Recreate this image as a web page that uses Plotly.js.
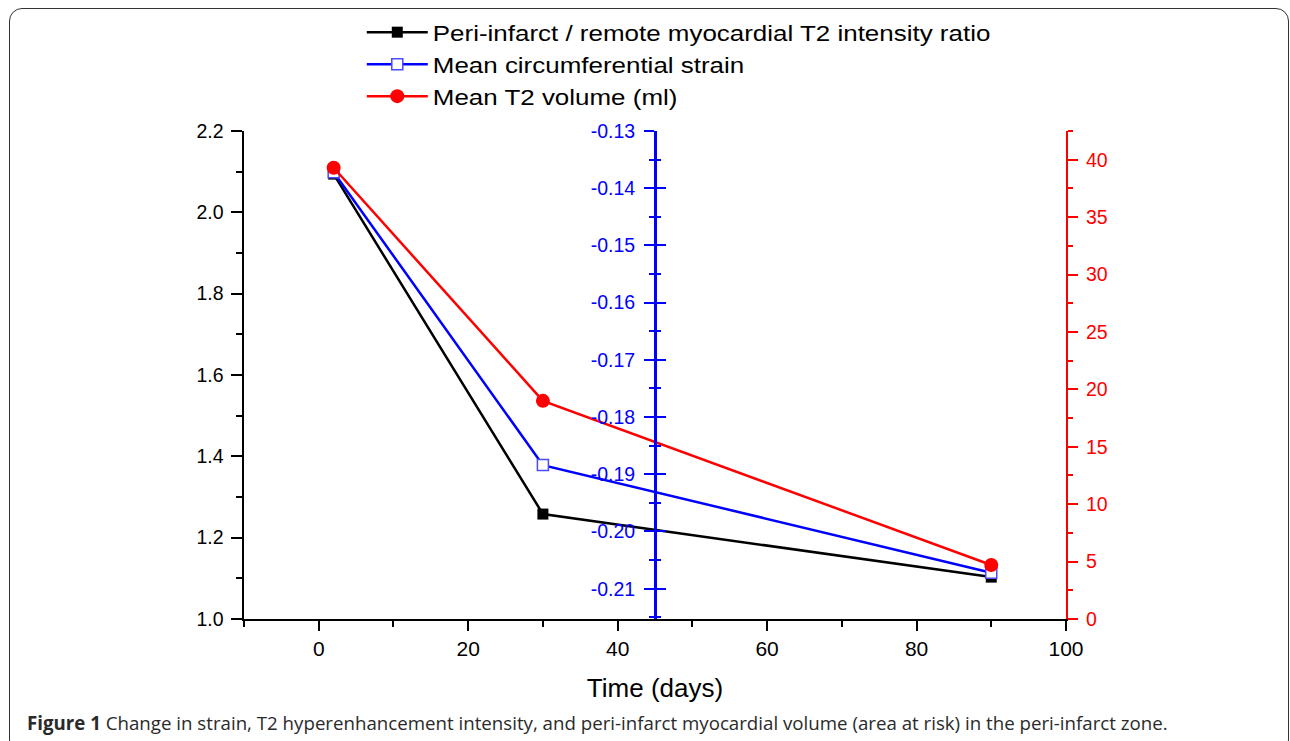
<!DOCTYPE html>
<html>
<head>
<meta charset="utf-8">
<script src="https://cdn.plot.ly/plotly-3.0.1.min.js"></script>
<style>
  html, body { margin: 0; padding: 0; background: #fff; }
  #wrap { position: relative; width: 1290px; height: 741px; overflow: hidden; }
  #chart { width: 1290px; height: 741px; }
  #frame { position: absolute; left: 9px; top: 8px; width: 1280px; height: 745px;
           border: 1.5px solid #333; border-radius: 13px; pointer-events: none; box-sizing: border-box; }
</style>
</head>
<body>
<div id="wrap">
  <div id="chart"></div>
  <div id="frame"></div>
</div>
<script>
// Data
const days = [2, 30, 90];
const t2Ratio = [2.094, 1.258, 1.103];          // left axis
const strain = [-0.1372, -0.1884, -0.2072];     // blue middle axis
const t2Volume = [39.3, 19.0, 4.7];             // right axis (ml)

const seriesNames = [
  'Peri-infarct / remote myocardial T2 intensity ratio',
  'Mean circumferential strain',
  'Mean T2 volume (ml)'
];
const strainTicks = [-0.13, -0.14, -0.15, -0.16, -0.17, -0.18, -0.19, -0.20, -0.21];
const strainTickText = strainTicks.map(v => v.toFixed(2));
const captionBold = 'Figure 1';
const captionText = 'Change in strain, T2 hyperenhancement intensity, and peri-infarct myocardial volume (area at risk) in the peri-infarct zone.';

const FONT = 'Liberation Sans, Arial, sans-serif';
const BLUE = '#0000ff';
const RED = '#ff0000';

const traces = [
  {
    x: days, y: t2Ratio, name: seriesNames[0], type: 'scatter', mode: 'lines+markers',
    xaxis: 'x', yaxis: 'y',
    line: { color: '#000000', width: 2.5 },
    marker: { symbol: 'square', size: 11, color: '#000000' }
  },
  {
    x: days, y: strain, name: seriesNames[1], type: 'scatter', mode: 'lines+markers',
    xaxis: 'x', yaxis: 'y2',
    line: { color: BLUE, width: 2.5 },
    marker: { symbol: 'square', size: 11, color: '#ffffff', line: { color: '#4a4aff', width: 1.5 } }
  },
  {
    x: days, y: t2Volume, name: seriesNames[2], type: 'scatter', mode: 'lines+markers',
    xaxis: 'x', yaxis: 'y3',
    line: { color: RED, width: 2.5 },
    marker: { symbol: 'circle', size: 14, color: RED }
  },
  {
    x: days, y: strain, type: 'scatter', mode: 'lines', xaxis: 'x', yaxis: 'y4',
    line: { width: 0 }, opacity: 0, showlegend: false, hoverinfo: 'skip'
  }
];

const strainRange = [-0.2153, -0.13];

const layout = {
  width: 1290, height: 741,
  margin: { l: 244, r: 224, t: 130, b: 122 },
  paper_bgcolor: 'rgba(0,0,0,0)',
  plot_bgcolor: '#ffffff',
  font: { family: FONT, color: '#000' },
  showlegend: true,
  legend: {
    x: 0.181, xanchor: 'left', y: 1.243, yanchor: 'top',
    font: { family: FONT, size: 22.3, color: '#000' },
    bgcolor: 'rgba(0,0,0,0)', itemwidth: 30, tracegroupgap: 0
  },
  xaxis: {
    range: [-10, 100], tick0: 0, dtick: 20,
    showgrid: false, zeroline: false,
    showline: true, linecolor: '#000', linewidth: 2,
    ticks: 'outside', ticklen: 10, tickwidth: 2, tickcolor: '#000',
    minor: { dtick: 10, ticks: 'outside', ticklen: 6, tickwidth: 2, tickcolor: '#000' },
    tickfont: { family: FONT, size: 21, color: '#000' },
    title: { text: 'Time (days)', font: { family: FONT, size: 26, color: '#000' }, standoff: 20 }
  },
  yaxis: {
    range: [1.0, 2.2], tick0: 1.0, dtick: 0.2, tickformat: '.1f',
    showgrid: false, zeroline: false,
    showline: true, linecolor: '#000', linewidth: 2.5,
    ticks: 'outside', ticklen: 11, tickwidth: 2, tickcolor: '#000',
    minor: { dtick: 0.1, ticks: 'outside', ticklen: 6, tickwidth: 2, tickcolor: '#000' },
    tickfont: { family: FONT, size: 19.5, color: '#000' },
    ticklabelstandoff: 3
  },
  yaxis2: {
    range: strainRange, tickmode: 'array', tickvals: strainTicks, ticktext: strainTickText,
    overlaying: 'y', anchor: 'free', position: 0.5, side: 'left',
    showgrid: false, zeroline: false,
    showline: true, linecolor: BLUE, linewidth: 3,
    ticks: 'outside', ticklen: 10, tickwidth: 2, tickcolor: BLUE,
    minor: { tickmode: 'linear', tick0: -0.13, dtick: 0.005, ticks: 'outside', ticklen: 5, tickwidth: 2, tickcolor: BLUE },
    tickfont: { family: FONT, size: 19.5, color: BLUE },
    ticklabelstandoff: 5
  },
  yaxis4: {
    range: strainRange, tickmode: 'array', tickvals: strainTicks,
    overlaying: 'y', anchor: 'free', position: 0.5, side: 'left',
    showgrid: false, zeroline: false, showline: false, showticklabels: false,
    ticks: 'inside', ticklen: 10, tickwidth: 2, tickcolor: BLUE,
    minor: { tickmode: 'linear', tick0: -0.13, dtick: 0.005, ticks: 'inside', ticklen: 5, tickwidth: 2, tickcolor: BLUE }
  },
  yaxis3: {
    range: [0, 42.5], dtick: 5, tick0: 0,
    overlaying: 'y', anchor: 'x', side: 'right',
    showgrid: false, zeroline: false,
    showline: true, linecolor: RED, linewidth: 2,
    ticks: 'outside', ticklen: 10, tickwidth: 2, tickcolor: RED,
    minor: { dtick: 2.5, ticks: 'outside', ticklen: 5, tickwidth: 2, tickcolor: RED },
    tickfont: { family: FONT, size: 19.5, color: RED },
    ticklabelstandoff: 4
  },
  annotations: [
    {
      xref: 'paper', yref: 'paper', x: -0.2665, y: -0.2127, xanchor: 'left', yanchor: 'middle',
      showarrow: false, align: 'left',
      text: '<b>' + captionBold + '</b> ' + captionText,
      font: { family: 'Open Sans, sans-serif', size: 18.7, color: '#2a2a2a' }
    }
  ]
};

Plotly.newPlot('chart', traces, layout, { displayModeBar: false, staticPlot: true }).then(function () {
  // widen legend glyphs horizontally (reference legend font is wider than its line height)
  const s = 1.164;
  document.querySelectorAll('#chart .legend [clip-path]').forEach(function (e) {
    e.removeAttribute('clip-path');
  });
  document.querySelectorAll('#chart .legendtext').forEach(function (t) {
    const x0 = parseFloat(t.getAttribute('x')) || 0;
    t.setAttribute('transform', 'translate(' + (x0 * (1 - s)) + ',0) scale(' + s + ',1)');
  });
  // longer legend sample lines with centred markers, as in the reference
  document.querySelectorAll('#chart .legend .legendlines path').forEach(function (p) {
    p.setAttribute('d', 'M-26,0h61');
  });
  document.querySelectorAll('#chart .legend .legendpoints path').forEach(function (p) {
    p.setAttribute('transform', 'translate(4.5,0)');
  });
});
</script>
</body>
</html>
